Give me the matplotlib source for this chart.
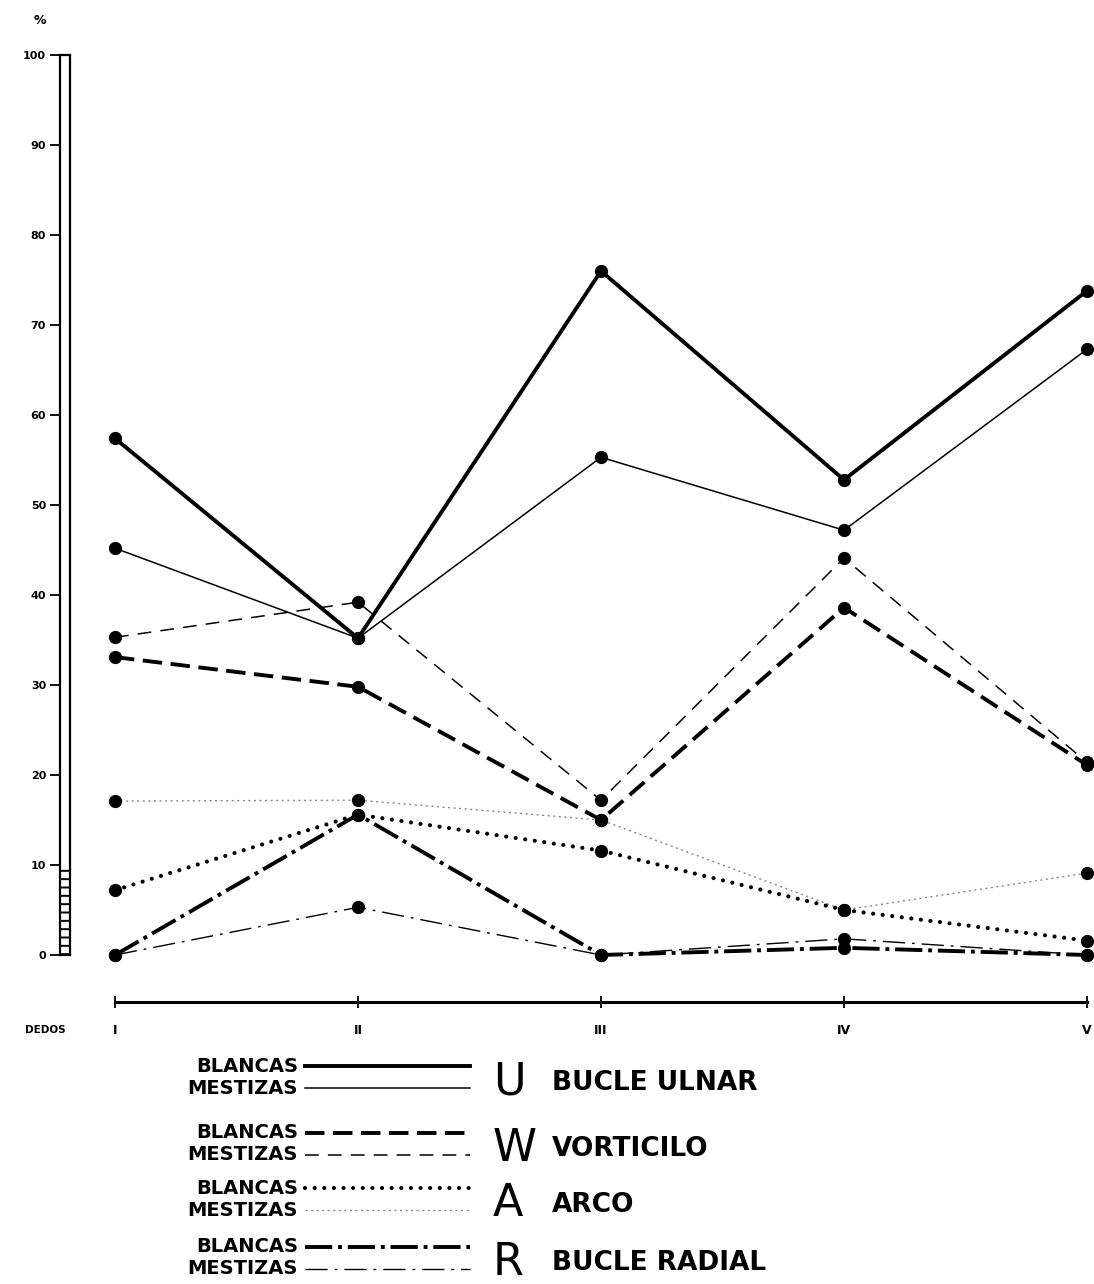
import matplotlib
matplotlib.use('Agg')
import matplotlib.pyplot as plt

# porcentajes por dedo
dedos = ['I', 'II', 'III', 'IV', 'V']
ulnar_blancas = [57.4, 35.2, 76.0, 52.8, 73.8]
ulnar_mestizas = [45.2, 35.2, 55.3, 47.2, 67.3]
vort_blancas = [33.1, 29.8, 15.0, 38.6, 21.1]
vort_mestizas = [35.3, 39.2, 17.2, 44.1, 21.4]
arco_blancas = [7.2, 15.6, 11.6, 5.0, 1.6]
arco_mestizas = [17.1, 17.2, 15.0, 5.0, 9.1]
radial_blancas = [0, 15.6, 0, 0.8, 0]
radial_mestizas = [0, 5.3, 0, 1.8, 0]

letras = ['U', 'W', 'A', 'R']
nombres = ['BUCLE ULNAR', 'VORTICILO', 'ARCO', 'BUCLE RADIAL']

# estilos: (blancas, mestizas) para cada tipo
estilos = [
    (dict(lw=2.8, ls='-'), dict(lw=1.1, ls='-')),
    (dict(lw=2.8, dashes=(5, 2.2)), dict(lw=1.1, dashes=(9, 6))),
    (dict(lw=3.0, dashes=(0.01, 2.3), dash_capstyle='round'),
     dict(lw=1.0, dashes=(1.5, 2.5), color='#8a8a8a')),
    (dict(lw=2.8, dashes=(7, 1.5, 1, 1.5)), dict(lw=1.0, dashes=(16, 5, 2, 5))),
]
series = [(ulnar_blancas, ulnar_mestizas), (vort_blancas, vort_mestizas),
          (arco_blancas, arco_mestizas), (radial_blancas, radial_mestizas)]

W, H = 1094, 1284
def caja(x0, y0, x1, y1):
    return [x0 / W, 1 - y1 / H, (x1 - x0) / W, (y1 - y0) / H]

fig = plt.figure(figsize=(W / 100, H / 100), dpi=100)
plt.rcParams['hatch.linewidth'] = 1.4

# grafico principal
ax = fig.add_axes(caja(115, 55, 1087, 955))
x = range(len(dedos))
for (b, m), (eb, em) in zip(series, estilos):
    for vals, st in ((m, em), (b, eb)):
        kw = dict(color='black')
        kw.update(st)
        ax.plot(x, vals, clip_on=False, **kw)
        ax.plot(x, vals, 'o', color='black', ms=8.5, clip_on=False)
ax.set_xlim(0, len(dedos) - 1)
ax.set_ylim(0, 100)
for s in ['top', 'right', 'left']:
    ax.spines[s].set_visible(False)
ax.spines['bottom'].set_position(('outward', 34))
ax.spines['bottom'].set_linewidth(2.2)
ax.set_yticks([])
ax.set_xticks(list(x))
ax.set_xticklabels(dedos, fontsize=9, fontweight='bold')
ax.tick_params(axis='x', direction='inout', length=8, width=1.3, pad=12)
fig.text(25 / W, 1 - 1030 / H, 'DEDOS', fontsize=7.5, fontweight='bold', va='center')

# barra de escala
bar = fig.add_axes(caja(60, 55, 70, 955))
bar.set_xlim(0, 1)
bar.set_ylim(0, 100)
bar.set_xticks([])
bar.set_yticks(range(0, 101, 10))
bar.set_yticklabels([str(v) for v in range(0, 101, 10)], fontsize=8, fontweight='bold')
bar.tick_params(axis='y', direction='out', length=7, width=1.3, pad=3)
for s in bar.spines.values():
    s.set_linewidth(1.6)
bar.axhspan(0, 10, fill=False, hatch='--', lw=0)
fig.text(40 / W, 1 - 20 / H, '%', fontsize=9, fontweight='bold', va='center', ha='center')

# leyenda dibujada a mano
leg = fig.add_axes([0, 0, 1, 1])
leg.set_xlim(0, W)
leg.set_ylim(H, 0)
leg.axis('off')
filas = [1066, 1133, 1188, 1247]
sep = 22
fnt = dict(family='DejaVu Sans', fontweight='bold', fontsize=14)
for i, y0 in enumerate(filas):
    eb, em = estilos[i]
    for k, (lab, st) in enumerate((('BLANCAS', eb), ('MESTIZAS', em))):
        yy = y0 + k * sep
        leg.text(298, yy, lab, ha='right', va='center', **fnt)
        kw = dict(color='black')
        kw.update(st)
        leg.plot([305, 470], [yy, yy], **kw)
    leg.text(493, y0 + sep * 0.72, letras[i], family='DejaVu Sans', fontsize=32,
             ha='left', va='center')
    leg.text(552, y0 + sep * 0.75, nombres[i], family='DejaVu Sans', fontsize=19,
             fontweight='bold', ha='left', va='center')

fig.savefig('out.png', dpi=100)
